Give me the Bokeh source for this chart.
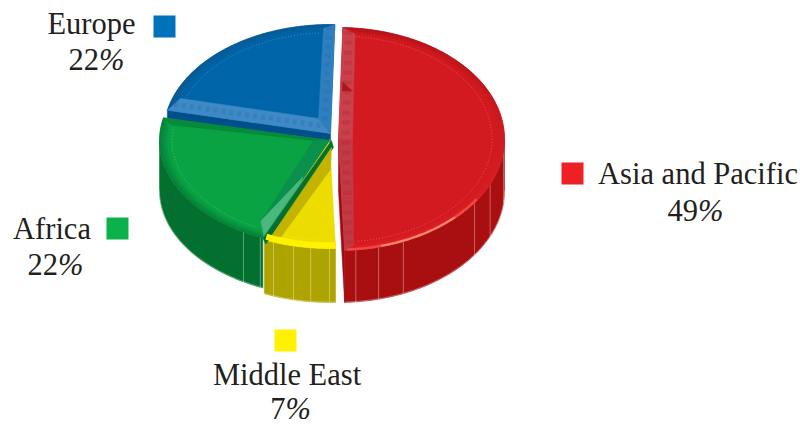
import math
from bokeh.core.properties import value
from bokeh.embed import file_html
from bokeh.models import Range1d
from bokeh.plotting import figure
from bokeh.resources import INLINE

# Regional shares, percent, listed clockwise from twelve o'clock
regions = ["Asia and Pacific", "Middle East", "Africa", "Europe"]
shares = [49, 7, 22, 22]
ROTATION = 1.5

# Each exploded slice: centre x, centre y, radius x, radius y, wall height
DISC = {"Asia and Pacific": (338, 138.5, 166, 111.5, 52),
        "Middle East": (329, 139, 166, 109, 54),
        "Africa": (329, 140, 170, 106, 50),
        "Europe": (330, 133, 167, 109, 12)}
TOP = {"Asia and Pacific": "#d31a20", "Middle East": "#eddc00",
       "Africa": "#0aa344", "Europe": "#0065a8"}
RIM_BACK = {"Asia and Pacific": "#ad1218", "Middle East": "#f7e800",
            "Africa": "#06803a", "Europe": "#0a5890"}
RIM_FRONT = {"Asia and Pacific": "#ea262a", "Middle East": "#fff200",
             "Africa": "#067c38", "Europe": "#0a5890"}
WALL = {"Asia and Pacific": "#a90e11", "Middle East": "#aea400",
        "Africa": "#047030", "Europe": "#004f8a"}
SWATCH = {"Asia and Pacific": "#ee2024", "Middle East": "#fff200",
          "Africa": "#0db14b", "Europe": "#0072bc"}

# Legend placement: swatch corner, name centre, share centre
LABELS = {"Asia and Pacific": ((561, 162), (697.5, 173), (695, 210)),
          "Middle East": ((274, 329), (286.5, 374), (290, 408)),
          "Africa": ((106, 217), (51.5, 228), (55, 264)),
          "Europe": ((153, 15), (91, 23), (96, 59))}
SEAMS = {"Asia and Pacific": [96, 114, 125, 157, 166, 174],
         "Middle East": [180, 186.5, 192.5, 199.7],
         "Africa": [210.4, 204], "Europe": []}
FONT_PX = 30.5

p = figure(width=800, height=425, output_backend="svg", toolbar_location=None,
           x_range=Range1d(0, 800), y_range=Range1d(425, 0), min_border=0,
           outline_line_color=None, background_fill_color="white")
p.axis.visible = False
p.grid.visible = False


def point(d, angle, scale=1.0, drop=0.0):
    a = math.radians(angle)
    return d[0] + d[2] * scale * math.sin(a), d[1] - d[3] * scale * math.cos(a) + drop


def arc(d, a0, a1, scale=1.0, drop=0.0):
    n = max(2, int(abs(a1 - a0)) + 1)
    pts = [point(d, a0 + (a1 - a0) * i / (n - 1), scale, drop) for i in range(n)]
    return [q[0] for q in pts], [q[1] for q in pts]


def fill(xs, ys, color, alpha=1.0):
    p.patch(xs, ys, fill_color=color, fill_alpha=alpha, line_color=color, line_width=0.5, line_alpha=alpha)


def mix(c1, c2, t):
    a = [int(c1[i:i + 2], 16) for i in (1, 3, 5)]
    b = [int(c2[i:i + 2], 16) for i in (1, 3, 5)]
    return "#%02x%02x%02x" % tuple(round(u + (v - u) * t) for u, v in zip(a, b))


def rim_bands(region, a0, a1, scales=(1.0, 0.985, 0.97, 0.955, 0.94)):
    """Shade the outer edge of a slice's top, darker towards the back and the edge."""
    d = DISC[region]
    xs, ys, colors = [], [], []
    steps = max(2, int((a1 - a0) / 3))
    for i in range(steps):
        u0 = a0 + (a1 - a0) * i / steps
        u1 = a0 + (a1 - a0) * (i + 1) / steps
        mid = math.radians((u0 + u1) / 2)
        base = mix(RIM_BACK[region], RIM_FRONT[region], (1 - math.cos(mid)) / 2)
        for k in range(len(scales) - 1):
            x0, y0 = arc(d, u0, u1, scales[k])
            x1, y1 = arc(d, u1, u0, scales[k + 1])
            xs.append(x0 + x1)
            ys.append(y0 + y1)
            colors.append(mix(base, TOP[region], (k + 0.5) / (len(scales) - 1)))
    p.patches(xs, ys, fill_color=colors, line_color=colors, line_width=0.4)


def facet(region, edge, inner_angle, inner_scale, apex_dx, apex_dy, color, alpha=1.0):
    """Bevel along a radial edge, from the outer corner in to an inset apex."""
    d = DISC[region]
    ex, ey = point(d, edge)
    ix, iy = point(d, inner_angle, inner_scale)
    fill([d[0], ex, ix, d[0] + apex_dx], [d[1], ey, iy, d[1] + apex_dy], color, alpha)
    return (ex, ey), (ix, iy), (d[0] + apex_dx, d[1] + apex_dy)


spans = {}
start = ROTATION
for region, share in zip(regions, shares):
    spans[region] = (start, start + share * 3.6)
    start += share * 3.6

# Back to front, so nearer slices cover the cut faces of the farther ones
for region in ["Europe", "Asia and Pacific", "Middle East", "Africa"]:
    d = DISC[region]
    a0, a1 = spans[region]

    # Outer wall: only the part facing the viewer
    w0, w1 = max(a0, 90), min(a1, 270)
    if w0 < w1:
        x1, y1 = arc(d, w0, w1)
        x2, y2 = arc(d, w1, w0, 1.0, d[4])
        fill(x1 + x2, y1 + y2, WALL[region])
        for s in SEAMS[region]:
            sx, sy = point(d, s)
            ex, ey = point(d, s, 1.0, d[4])
            p.line([sx, ex], [sy, ey], line_color="white", line_alpha=0.35, line_width=1)
        xb, yb = arc(d, w0, w1, 1.0, d[4] - 0.5)
        p.line(xb, yb, line_color="white", line_alpha=0.3, line_width=1)

    # Cut faces exposed beside the gaps
    if region == "Asia and Pacific":
        ex, ey = point(d, a1)
        fx, fy = point(d, a1, 1.0, d[4])
        fill([d[0], ex, fx, d[0]], [d[1], ey, fy, d[1] + d[4]], "#9d0d10")
    if region == "Europe":
        lx, ly = point(d, a0)
        fill([d[0], lx, lx, d[0]], [d[1], ly, ly + d[4], d[1] + d[4]], WALL[region])
    if region == "Africa":
        ex, ey = point(d, a0)
        fill([d[0] + 2, ex, ex + 3, d[0] + 4], [d[1], ey, ey + 6, d[1] + 7], WALL[region])

    # Flat top of the slice and its shaded edge
    x, y = arc(d, a0, a1)
    fill(x + [d[0]], y + [d[1]], TOP[region])
    rim_bands(region, a0, a1)

    # Fine dotted line just inside the rim
    x, y = arc(d, a0 + 5, a1 - 5, 0.925)
    p.line(x, y, line_color="white", line_alpha=0.3, line_width=0.8, line_dash="1 2")

# Europe: faintly textured bevels along both straight edges
a0, a1 = spans["Europe"]
e, i, apex = facet("Europe", a0, 289.7, 0.954, -12, -15, "#3f8ac6")
p.line([(e[0] + i[0]) / 2, (apex[0] + DISC["Europe"][0]) / 2],
       [(e[1] + i[1]) / 2, (apex[1] + DISC["Europe"][1]) / 2],
       line_color="#1f6fb0", line_width=5, line_dash="4 4", line_alpha=0.35)
e, i, apex = facet("Europe", a1, 357.5, 0.964, -12, -15, "#2f7fbe")
p.line([(e[0] + i[0]) / 2, (apex[0] + DISC["Europe"][0]) / 2],
       [(e[1] + i[1]) / 2, (apex[1] + DISC["Europe"][1]) / 2],
       line_color="#1a6cae", line_width=6, line_dash="4 5", line_alpha=0.3)

# Asia and Pacific: one pale bevel running down the whole straight edge
a0, a1 = spans["Asia and Pacific"]
d = DISC["Asia and Pacific"]
top_c, top_i, _ = facet("Asia and Pacific", a0, 6, 0.95, 14, 0, "#c9414c")
bot_c, bot_i, _ = facet("Asia and Pacific", a1, 174.5, 0.955, 14, 0, "#c23a44")
p.line([(top_c[0] + top_i[0]) / 2, d[0] + 7, (bot_c[0] + bot_i[0]) / 2],
       [(top_c[1] + top_i[1]) / 2, d[1], (bot_c[1] + bot_i[1]) / 2],
       line_color="#a81620", line_width=8, line_dash="4 6", line_alpha=0.2)
fill([d[0] + 4, d[0] + 14, d[0] + 4], [d[1] - 57, d[1] - 48, d[1] - 48], "#b0141c")

# Lit strip along the near rim of the largest slice
x, y = arc(d, 123, 177, 0.992)
p.line(x, y, line_color="#ee4a42", line_width=2.5)
x, y = arc(d, 135, 165, 0.992)
p.line(x, y, line_color="#f58a70", line_width=2)

# Africa: dark upper bevel, and a lit one along the near straight edge
a0, a1 = spans["Africa"]
d = DISC["Africa"]
facet("Africa", a1, 279, 0.94, -16, 0, "#078a3a")
e, i, apex = facet("Africa", a0, 208, 0.86, -16, 0, "#0b8f4d")
fill([e[0] + 1, i[0], i[0] + (apex[0] - i[0]) * 0.8, e[0] + (d[0] - e[0]) * 0.58],
     [e[1] - 2, i[1], i[1] + (apex[1] - i[1]) * 0.55, e[1] + (d[1] - e[1]) * 0.58], "#4ab87c")

# Middle East: shaded strip beside Africa, and a bright near rim
a0, a1 = spans["Middle East"]
d = DISC["Middle East"]
x0, y0 = point(d, a1)
fill([x0 + 6, d[0] + 2, d[0] + 1, x0 + 16],
     [y0 - 2, d[1] + 8, d[1] + 30, y0 - 2], "#c2b400")
x, y = arc(d, a0, a1, 0.97)
p.line(x, y, line_color="#fff200", line_width=6)

# Legend swatches with their name and share
for region, share in zip(regions, shares):
    (sx, sy), (nx, ny), (vx, vy) = LABELS[region]
    p.quad(left=[sx], right=[sx + 22], top=[sy], bottom=[sy + 22],
           fill_color=SWATCH[region], line_color=None)
    p.text([nx], [ny], text=[region], text_font=value("Liberation Serif"), text_font_size=f"{FONT_PX}px",
           text_color="#231f20", text_align="center", text_baseline="middle")
    digits = str(share)
    digits_w = len(digits) * FONT_PX * 0.5
    sign_w = FONT_PX * 0.833
    split = vx - (digits_w + sign_w) / 2 + digits_w
    p.text([split], [vy], text=[digits], text_font=value("Liberation Serif"), text_font_size=f"{FONT_PX}px",
           text_color="#231f20", text_align="right", text_baseline="middle")
    p.text([split], [vy], text=["%"], text_font=value("Liberation Serif"), text_font_size=f"{FONT_PX}px",
           text_font_style="italic", text_color="#231f20", text_align="left", text_baseline="middle")

open("out.html", "w").write(file_html(p, INLINE))
